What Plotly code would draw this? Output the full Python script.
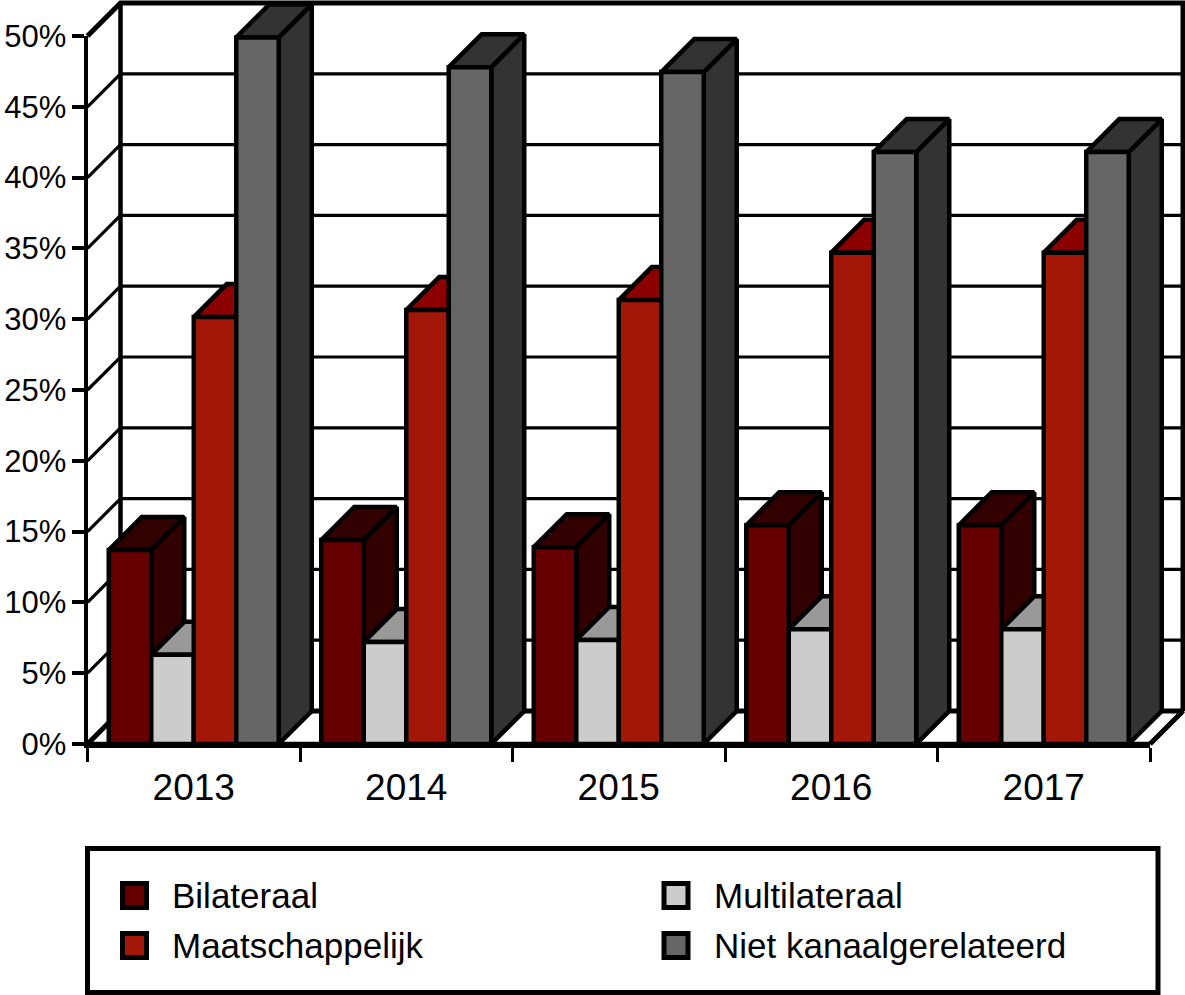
import plotly.graph_objects as go

years = ["2013", "2014", "2015", "2016", "2017"]
bilateraal = [13.7, 14.4, 13.9, 15.45, 15.45]
multilateraal = [6.3, 7.2, 7.35, 8.1, 8.1]
maatschappelijk = [30.15, 30.65, 31.35, 34.7, 34.7]
niet_kanaal = [49.9, 47.8, 47.45, 41.8, 41.8]
y_ticks = [0, 5, 10, 15, 20, 25, 30, 35, 40, 45, 50]
y_labels = ["0%", "5%", "10%", "15%", "20%", "25%", "30%", "35%", "40%", "45%", "50%"]

series = [
    ("Bilateraal", bilateraal, "#660000", "#330000", "#330000"),
    ("Multilateraal", multilateraal, "#cccccc", "#999999", "#808080"),
    ("Maatschappelijk", maatschappelijk, "#a31708", "#8c0000", "#800000"),
    ("Niet kanaalgerelateerd", niet_kanaal, "#666666", "#333333", "#333333"),
]

W, H = 1185, 995
AX_L, AX_R, Y0, Y50 = 87.5, 1150.0, 744.0, 36.0
UX = (AX_R - AX_L) / 5
UY = (Y0 - Y50) / 50
DX = 33.0 / UX
DY = 33.0 / UY
BAR_W = 0.2
FONT = "Liberation Sans"
LINE = 4.5

fig = go.Figure()

# real axes (ticks and labels)
fig.add_trace(go.Scatter(x=years, y=[0] * 5, mode="markers", marker=dict(opacity=0),
                         hoverinfo="skip", showlegend=False, xaxis="x", yaxis="y"))


def wall(xs, ys, width, name):
    fig.add_trace(go.Scatter(x=xs, y=ys, mode="lines", line=dict(color="black", width=width),
                             hoverinfo="skip", showlegend=False, name=name, xaxis="x2", yaxis="y2"))


L, R = -0.5, 4.5
# 3-D wall gridlines
thin_x, thin_y = [], []
for v in y_ticks[1:-1]:
    thin_x += [L, L + DX, R + DX, None]
    thin_y += [v, v + DY, v + DY, None]
wall(thin_x, thin_y, 3.2, "grid")
wall([L, L + DX, R + DX, R, None, L, L + DX, R + DX, R + DX],
     [0, DY, DY, 0, None, 50, 50 + DY, 50 + DY, DY], 5, "frame")
wall([L + DX, L + DX], [DY, 50 + DY], 4.5, "backwall")
wall([L, R], [0, 0], 4.5, "floor")


def polygons(trace_name, rects, color, group):
    xs, ys = [], []
    for r in rects:
        for px, py in r:
            xs.append(px)
            ys.append(py)
        xs.append(r[0][0])
        ys.append(r[0][1])
        xs.append(None)
        ys.append(None)
    fig.add_trace(go.Scatter(x=xs, y=ys, mode="lines", fill="toself", fillcolor=color,
                             line=dict(color="black", width=LINE), name=trace_name,
                             legendgroup=group, showlegend=False, hoverinfo="skip",
                             xaxis="x2", yaxis="y2"))


for j, (name, vals, front, top, side) in enumerate(series):
    sides, tops, fronts = [], [], []
    for i, v in enumerate(vals):
        x0 = i - 0.4 + BAR_W * j
        x1 = x0 + BAR_W
        sides.append([(x1, 0), (x1 + DX, DY), (x1 + DX, v + DY), (x1, v)])
        tops.append([(x0, v), (x0 + DX, v + DY), (x1 + DX, v + DY), (x1, v)])
        fronts.append([(x0, 0), (x0, v), (x1, v), (x1, 0)])
    polygons(name + " side", sides, side, name)
    polygons(name + " top", tops, top, name)
    polygons(name, fronts, front, name)

# legend drawn in paper space
shapes = [dict(type="rect", xref="paper", yref="paper", x0=87.5 / W, x1=1158 / W,
               y0=1 - 992.5 / H, y1=1 - 848.5 / H, line=dict(color="black", width=5),
               fillcolor="rgba(0,0,0,0)")]
annotations = []
cols = {0: (134.5, 172), 1: (134.5, 172), 2: (676, 714), 3: (676, 714)}
legend_order = [0, 2, 1, 3]  # Bilateraal, Maatschappelijk, Multilateraal, Niet
rows = [895.5, 945.5, 895.5, 945.5]
for k, idx in enumerate(legend_order):
    name, _, front, _, _ = series[idx]
    cx, tx = cols[k]
    cy = rows[k]
    shapes.append(dict(type="rect", xref="paper", yref="paper",
                       x0=(cx - 12) / W, x1=(cx + 12) / W,
                       y0=1 - (cy + 12) / H, y1=1 - (cy - 12) / H,
                       line=dict(color="black", width=5), fillcolor=front))
    annotations.append(dict(text=name, xref="paper", yref="paper", x=tx / W, y=1 - (cy + 0) / H,
                            xanchor="left", yanchor="middle", showarrow=False, align="left",
                            xshift=-2, font=dict(family=FONT, size=35, color="black")))

fig.update_layout(
    width=W, height=H, margin=dict(l=0, r=0, t=0, b=0, pad=0, autoexpand=False),
    paper_bgcolor="white", plot_bgcolor="rgba(0,0,0,0)", showlegend=False,
    shapes=shapes, annotations=annotations,
    font=dict(family=FONT, color="black"),
    xaxis=dict(domain=[AX_L / W, AX_R / W], type="category", categoryorder="array",
               categoryarray=years, range=[-0.5, 4.5], tickson="boundaries", ticks="outside",
               ticklen=14, tickwidth=3, tickcolor="black", showline=True, linecolor="black",
               linewidth=4, showgrid=False, zeroline=False, anchor="y", automargin=False,
               ticklabelstandoff=8,
               tickfont=dict(family=FONT, size=37, color="black")),
    yaxis=dict(domain=[1 - Y0 / H, 1 - Y50 / H], range=[0, 50], tickvals=y_ticks,
               ticktext=y_labels, ticks="outside", ticklen=12, tickwidth=4, tickcolor="black",
               showline=True, linecolor="black", linewidth=4, showgrid=False, zeroline=False,
               anchor="x", automargin=False, ticklabelstandoff=-1,
               tickfont=dict(family=FONT, size=31, color="black")),
    xaxis2=dict(domain=[0, 1], range=[L - AX_L / UX, L + (W - AX_L) / UX], visible=False,
                anchor="y2", fixedrange=True),
    yaxis2=dict(domain=[0, 1], range=[-(H - Y0) / UY, Y0 / UY], visible=False,
                anchor="x2", fixedrange=True),
)

fig.write_html("out.html", config={"displayModeBar": False},
               post_script="document.body.style.margin='0';document.body.style.overflow='hidden';")
